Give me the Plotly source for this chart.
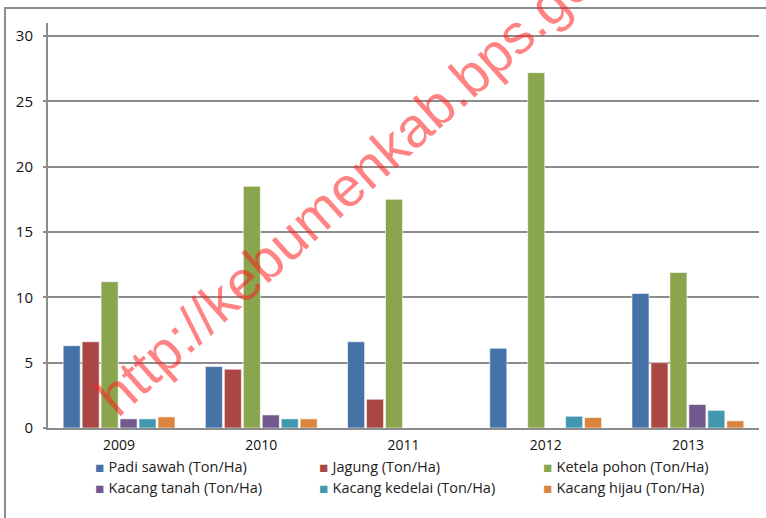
import plotly.graph_objects as go

years = ["2009", "2010", "2011", "2012", "2013"]
padi_sawah = [6.3, 4.7, 6.6, 6.1, 10.3]
jagung = [6.6, 4.5, 2.2, None, 5.0]
ketela_pohon = [11.2, 18.5, 17.5, 27.2, 11.9]
kacang_tanah = [0.7, 1.0, None, None, 1.8]
kacang_kedelai = [0.7, 0.7, None, 0.9, 1.35]
kacang_hijau = [0.85, 0.7, None, 0.8, 0.55]

series_names = ["Padi sawah (Ton/Ha)", "Jagung (Ton/Ha)", "Ketela pohon (Ton/Ha)",
                "Kacang tanah (Ton/Ha)", "Kacang kedelai (Ton/Ha)", "Kacang hijau (Ton/Ha)"]
series_values = [padi_sawah, jagung, ketela_pohon, kacang_tanah, kacang_kedelai, kacang_hijau]
colors = ["#4572A7", "#AA4643", "#89A54E", "#71588F", "#4198AF", "#DB843D"]

fig = go.Figure()
for name, vals, col in zip(series_names, series_values, colors):
    fig.add_trace(go.Bar(x=years, y=vals, name=name, marker_color=col,
                         marker_line=dict(color="rgba(255,255,255,0.6)", width=1),
                         showlegend=False))
# legend entries: small coloured square drawn inside the entry text
for name, col in zip(series_names, colors):
    label = "<span style='font-family:DejaVu Sans;color:%s'>▪</span> %s" % (col, name)
    fig.add_trace(go.Scatter(x=[None], y=[None], mode="markers", name=label,
                             marker=dict(symbol="square", size=1, color="rgba(0,0,0,0)",
                                         line=dict(width=0, color="rgba(0,0,0,0)"))))

L, R, T, B = 48, 7, 23, 90
W, H = 766, 518
pw, ph = W - L - R, H - T - B

def px(x):
    return (x - L) / pw

def py(y):
    return (H - B - y) / ph

fig.update_layout(
    width=W, height=H,
    margin=dict(l=L, r=R, t=T, b=B, autoexpand=False),
    paper_bgcolor="white", plot_bgcolor="white",
    barmode="group", bargap=0.2, bargroupgap=0.1,
    font=dict(family="Open Sans, Lato, sans-serif", size=14, color="#111"),
    legend=dict(orientation="h", x=px(55), y=py(450), xanchor="left", yanchor="top",
                entrywidth=179, entrywidthmode="pixels", itemwidth=30,
                font=dict(family="Open Sans, sans-serif", size=14.5, color="#222"),
                tracegroupgap=0),
    showlegend=True,
)
fig.update_xaxes(showline=True, linecolor="#8c8c8c", linewidth=2, ticks="",
                 showgrid=False, ticklabelstandoff=3, tickfont=dict(size=14))
fig.update_yaxes(range=[0, 31], tickvals=[0, 5, 10, 15, 20, 25, 30],
                 showline=True, linecolor="#8c8c8c", linewidth=2,
                 showgrid=True, gridcolor="#8c8c8c", gridwidth=2,
                 ticks="outside", ticklen=3, tickcolor="#8c8c8c", tickwidth=2,
                 ticklabelstandoff=7, zeroline=False, tickfont=dict(size=15))

# outer chart frame
fig.add_shape(type="rect", xref="paper", yref="paper",
              x0=px(5), x1=px(790), y0=py(560), y1=py(8),
              line=dict(color="#8c8c8c", width=2), fillcolor="rgba(0,0,0,0)", layer="below")

# watermark
fig.add_annotation(text="http://kebumenkab.bps.go.id", xref="paper", yref="paper",
                   x=px(81), y=py(430), xanchor="left", yanchor="bottom",
                   textangle=-42, showarrow=False,
                   font=dict(family="Liberation Sans, Arial, sans-serif", size=56,
                             color="rgba(255,30,30,0.55)"))

fig.write_html("out.html", config={"displayModeBar": False},
               post_script="document.body.style.margin='0';document.body.style.overflow='hidden';")
